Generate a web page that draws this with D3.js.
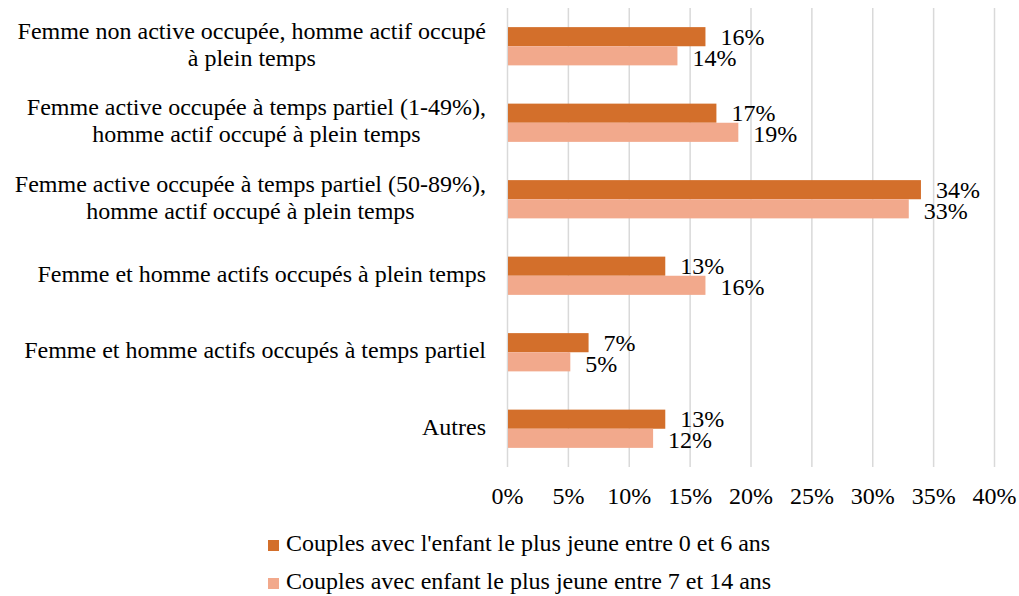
<!DOCTYPE html>
<html>
<head>
<meta charset="utf-8">
<script src="https://cdn.jsdelivr.net/npm/d3@7"></script>
<style>
  body { margin: 0; background: #fff; }
  svg text { font-family: "Liberation Serif", "Times New Roman", serif; fill: #000; }
</style>
</head>
<body>
<script>
var categories = [
  ["Femme non active occupée, homme actif occupé", "à plein temps"],
  ["Femme active occupée à temps partiel (1-49%),", "homme actif occupé à plein temps"],
  ["Femme active occupée à temps partiel (50-89%),", "homme actif occupé à plein temps"],
  ["Femme et homme actifs occupés à plein temps"],
  ["Femme et homme actifs occupés à temps partiel"],
  ["Autres"]
];
var seriesNames = ["Couples avec l'enfant le plus jeune entre 0 et 6 ans",
                   "Couples avec enfant le plus jeune entre 7 et 14 ans"];
var young = [16.3, 17.2, 34, 13, 6.7, 13];
var older = [14, 19, 33, 16.3, 5.2, 12];
var tickValues = [0, 5, 10, 15, 20, 25, 30, 35, 40];
var colors = ["#d36f2b", "#f2a98c"];

var W = 1019, H = 596, FS = 24;
var svg = d3.select("body").append("svg").attr("width", W).attr("height", H);

var x = d3.scaleLinear().domain([0, 40]).range([507, 994]);
var y = d3.scaleBand().domain(d3.range(categories.length)).range([8, 467])
  .paddingInner(0.5).paddingOuter(0.25);
var ys = d3.scaleBand().domain([0, 1]).range([0, y.bandwidth()]);

// gridlines + tick labels
var axis = svg.append("g").attr("transform", "translate(0,467)")
  .call(d3.axisBottom(x).tickValues(tickValues).tickSize(-459)
    .tickFormat(function (d) { return d + "%"; }));
axis.select(".domain").remove();
axis.selectAll(".tick line").attr("stroke", "#d9d9d9").attr("stroke-width", 1.5);
axis.selectAll(".tick text").attr("font-size", FS).attr("y", 37).attr("dy", 0);

var data = categories.map(function (c, i) { return [young[i], older[i]]; });

var groups = svg.selectAll("g.cat").data(data).enter().append("g")
  .attr("class", "cat")
  .attr("transform", function (d, i) { return "translate(0," + y(i) + ")"; });

groups.selectAll("rect").data(function (d) { return d; }).enter().append("rect")
  .attr("x", x(0) + 1)
  .attr("y", function (d, j) { return ys(j); })
  .attr("width", function (d) { return x(d) - x(0) - 1; })
  .attr("height", ys.bandwidth())
  .attr("fill", function (d, j) { return colors[j]; });

// value labels (dark one sits a bit higher, as in the original)
groups.selectAll("text.val").data(function (d) { return d; }).enter().append("text")
  .attr("class", "val")
  .attr("x", function (d) { return x(d) + 15; })
  .attr("y", function (d, j) { return ys(j) + ys.bandwidth() / 2 + (j === 0 ? 8 : 10); })
  .attr("font-size", FS)
  .text(function (d) { return Math.round(d) + "%"; });

// category labels: block right-aligned, lines centred within block
var labelRight = 486, lineH = 27;
categories.forEach(function (lines, i) {
  var cy = y(i) + y.bandwidth() / 2;
  var t = svg.append("g").selectAll("text").data(lines).enter().append("text")
    .attr("font-size", FS)
    .attr("text-anchor", "middle")
    .attr("y", function (d, k) { return cy + (k - (lines.length - 1) / 2) * lineH + 6; })
    .text(function (d) { return d; });
  var maxW = 0;
  t.each(function () { maxW = Math.max(maxW, this.getComputedTextLength()); });
  t.attr("x", labelRight - maxW / 2);
});

// legend
var legend = svg.selectAll("g.leg").data(seriesNames).enter().append("g")
  .attr("class", "leg")
  .attr("transform", function (d, i) { return "translate(268," + (551 + i * 38) + ")"; });
legend.append("rect").attr("x", 0).attr("y", -11).attr("width", 11).attr("height", 11)
  .attr("fill", function (d, i) { return colors[i]; });
legend.append("text").attr("x", 18).attr("y", 0).attr("font-size", FS)
  .text(function (d) { return d; });
</script>
</body>
</html>
